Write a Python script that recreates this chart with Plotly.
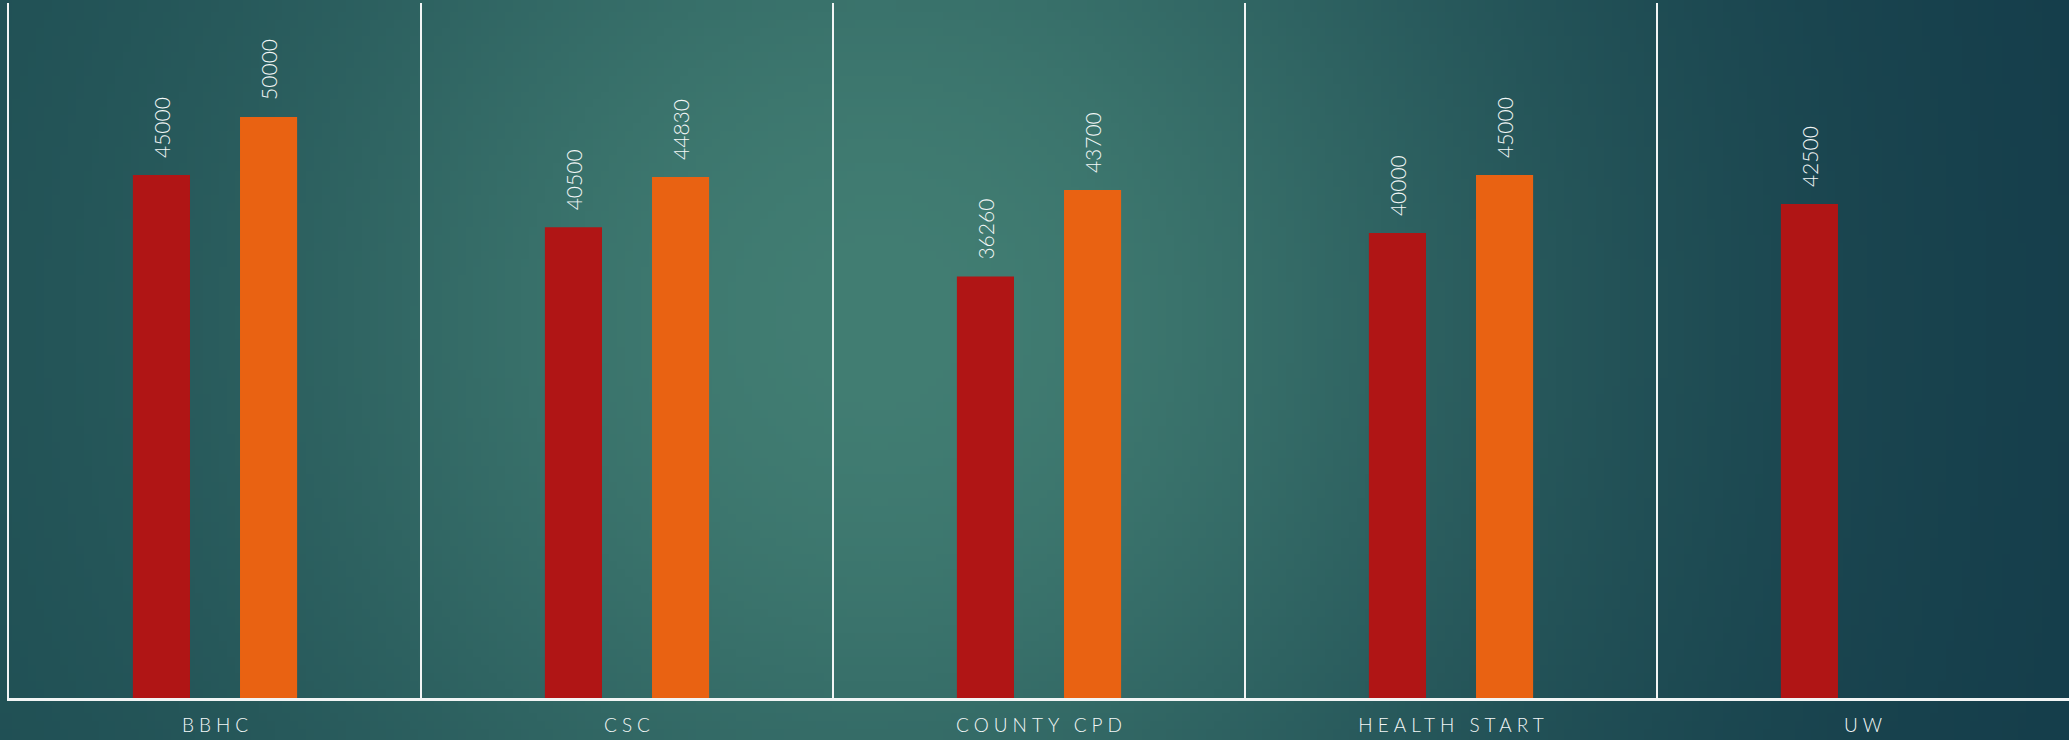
import base64, struct, zlib
import numpy as np
import plotly.graph_objects as go

categories = ["BBHC", "CSC", "COUNTY CPD", "HEALTH START", "UW"]
series1 = [45000, 40500, 36260, 40000, 42500]
series2 = [50000, 44830, 43700, 45000, None]
series_names = ["Series 1", "Series 2"]
series_colors = ["#b01515", "#e96212"]

W, H = 2069, 740
FONT = "Lato Light, Lato, Open Sans, sans-serif"
TEXT_COLOR = "#f3f7f7"

# ---- background gradient image (decorative) ----
def make_bg_png(w=260, h=93):
    xs = np.linspace(0, W, w)[None, :]
    ys = np.linspace(0, H, h)[:, None]
    t = xs / W
    left = np.array([0x1c, 0x4a, 0x51], float)
    right = np.array([0x14, 0x3c, 0x4a], float)
    light = np.array([0x42, 0x7e, 0x73], float)
    base = left[None, None, :] * (1 - t[..., None]) + right[None, None, :] * t[..., None]
    g = np.exp(-(((xs - 880) / 680.0) ** 2 + ((ys - 320) / 700.0) ** 2))[..., None]
    img = base + (light - base) * g
    img = np.clip(img, 0, 255).astype(np.uint8)
    raw = b"".join(b"\x00" + img[r].tobytes() for r in range(h))

    def chunk(tag, data):
        c = struct.pack(">I", len(data)) + tag + data
        return c + struct.pack(">I", zlib.crc32(tag + data) & 0xFFFFFFFF)

    png = b"\x89PNG\r\n\x1a\n"
    png += chunk(b"IHDR", struct.pack(">IIBBBBB", w, h, 8, 2, 0, 0, 0))
    png += chunk(b"IDAT", zlib.compress(raw, 9))
    png += chunk(b"IEND", b"")
    return "data:image/png;base64," + base64.b64encode(png).decode()

bg_src = make_bg_png()

fig = go.Figure()
for name, vals, col in zip(series_names, [series1, series2], series_colors):
    fig.add_trace(go.Bar(x=categories, y=vals, name=name, marker=dict(color=col, line=dict(width=0))))

# value labels
offsets = [-53.5, 53.5]
for vals, xs in zip([series1, series2], offsets):
    for c, v in zip(categories, vals):
        if v is None:
            continue
        fig.add_annotation(x=c, y=v, text=str(v), textangle=-90, showarrow=False,
                           xshift=xs, yshift=15, yanchor="bottom", xanchor="center",
                           font=dict(family=FONT, size=21, color=TEXT_COLOR, weight=300))

fig.update_layout(
    width=W, height=H,
    margin=dict(l=9, r=0, t=3, b=42),
    paper_bgcolor="#245a5a",
    plot_bgcolor="rgba(0,0,0,0)",
    barmode="group",
    bargap=0.48,
    bargroupgap=0.467,
    showlegend=False,
    images=[dict(source=bg_src, xref="paper", yref="paper", x=-9 / (W - 9), y=1 + 3 / (H - 45),
                 sizex=W / (W - 9), sizey=H / (H - 45), xanchor="left", yanchor="top",
                 sizing="stretch", layer="below")],
    xaxis=dict(
        type="category", tickson="boundaries", showgrid=True, gridcolor="#f2f5f5", gridwidth=2,
        showline=True, linecolor="#f2f5f5", linewidth=3, ticks="", ticklabelstandoff=8,
        tickfont=dict(family=FONT, size=19, color=TEXT_COLOR, weight=300),
    ),
    yaxis=dict(
        range=[0, 59800], showgrid=False, zeroline=False, showticklabels=False,
        showline=True, linecolor="#f2f5f5", linewidth=2, ticks="",
    ),
)

post = """
document.body.style.margin='0';document.body.style.padding='0';document.body.style.overflow='hidden';
var gd=document.getElementById('{plot_id}');
function ls(){document.querySelectorAll('.xtick text').forEach(function(t){t.style.letterSpacing='5px';t.setAttribute('dx','2.5');});}
ls(); if(gd && gd.on){gd.on('plotly_afterplot', ls);}
"""

fig.write_html("out.html", config={"displayModeBar": False}, post_script=post)
